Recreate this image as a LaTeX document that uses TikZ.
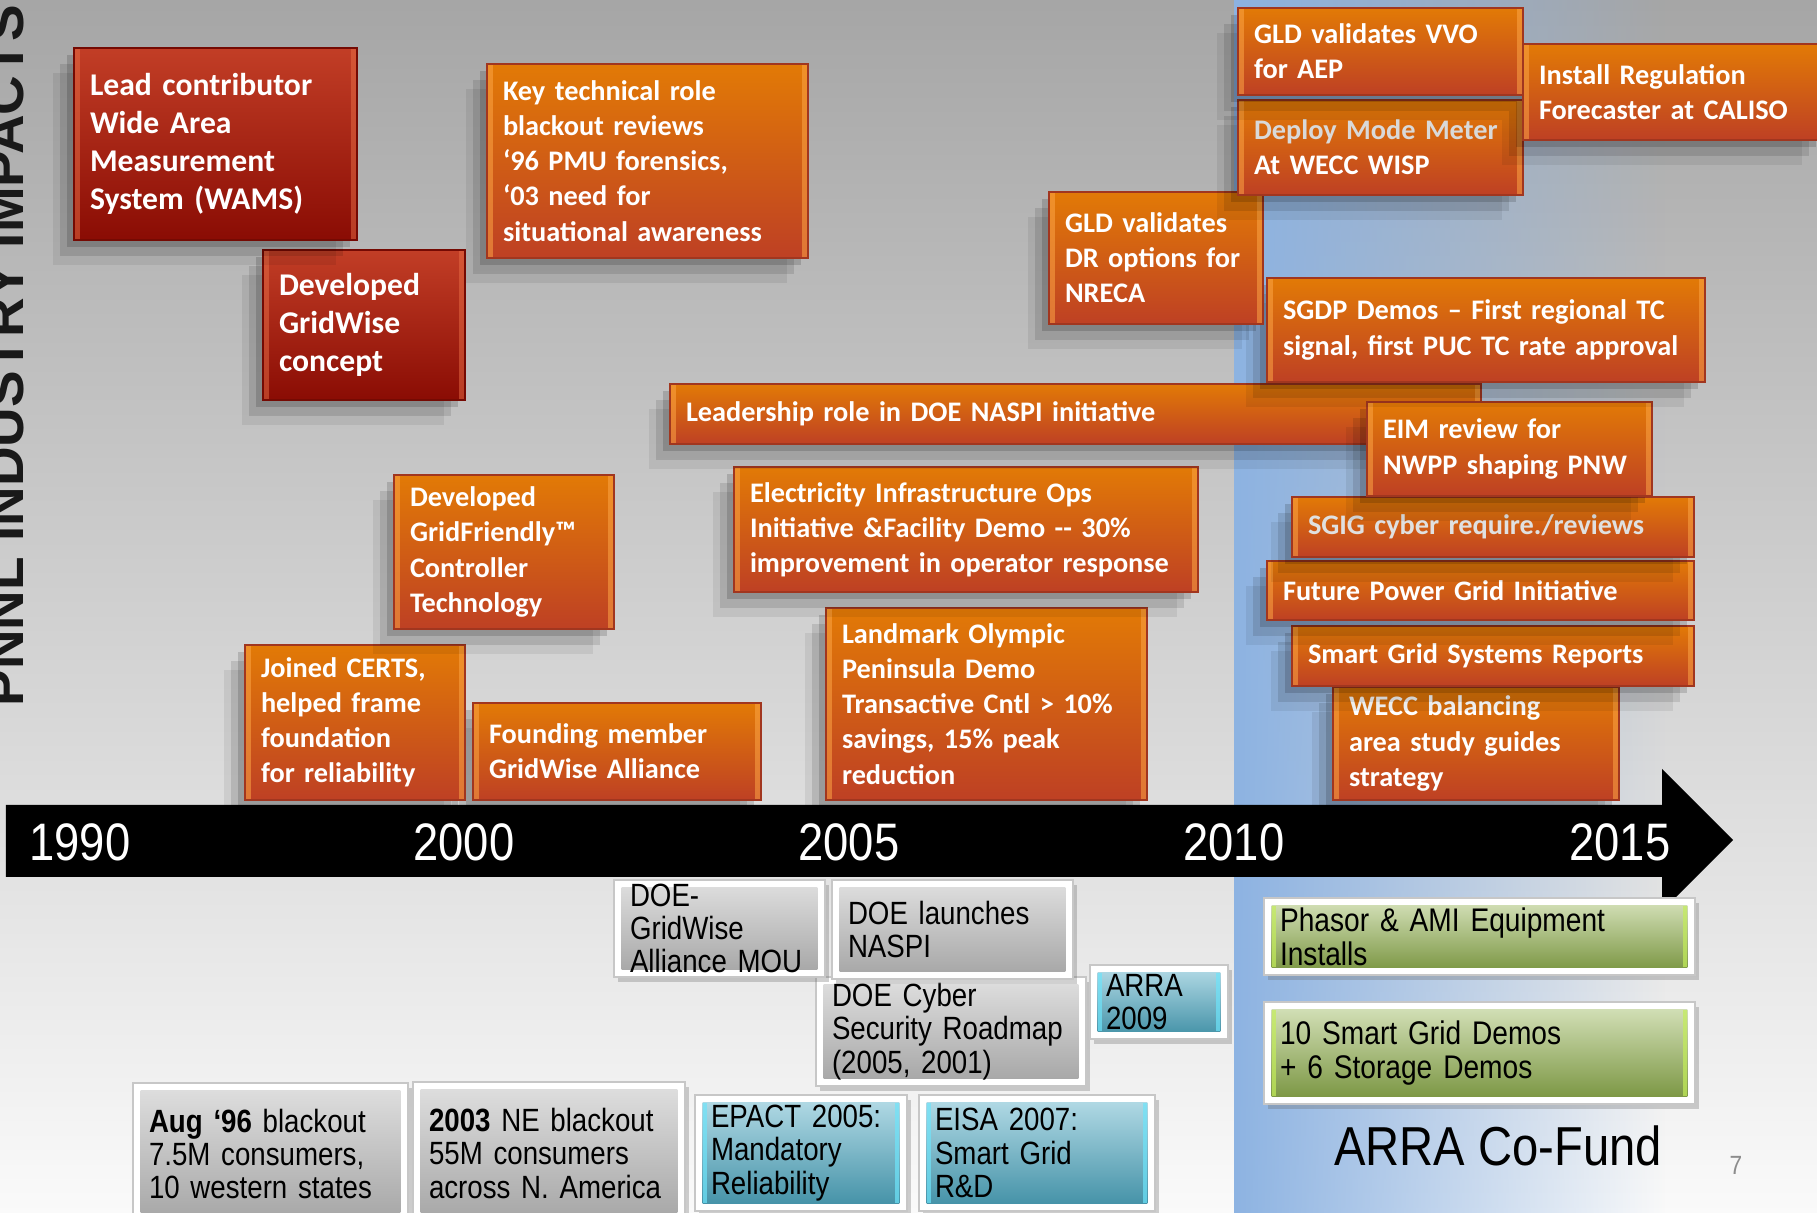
\documentclass[tikz,border=0pt]{standalone}
\usepackage{fontspec}
\setmainfont{Carlito}
\newfontfamily\narrowsf[FakeStretch=0.86]{Liberation Sans}
\newfontfamily\headsf{Liberation Sans}
\usepackage{tikz}
\usetikzlibrary{shadows,fadings}
\hyphenpenalty=10000
\exhyphenpenalty=10000
\definecolor{orgtop}{RGB}{226,122,6}
\definecolor{orgbot}{RGB}{190,64,36}
\definecolor{orgedge}{RGB}{252,165,70}
\definecolor{redtop}{RGB}{194,62,38}
\definecolor{redbot}{RGB}{138,12,4}
\definecolor{rededge}{RGB}{232,110,70}
\definecolor{graytop}{RGB}{224,224,224}
\definecolor{graybot}{RGB}{164,164,164}
\definecolor{tealtop}{RGB}{183,221,232}
\definecolor{tealbot}{RGB}{62,142,164}
\definecolor{tealedge}{RGB}{110,228,250}
\definecolor{grntop}{RGB}{216,228,190}
\definecolor{grnbot}{RGB}{118,146,60}
\definecolor{grnedge}{RGB}{196,238,90}
\definecolor{panelblue}{RGB}{141,179,226}
\tikzfading[name=panel_fade, left color=transparent!0, middle color=transparent!30, right color=transparent!100]
\tikzstyle{box} = [rectangle, anchor=north west, inner xsep=0.16cm, inner ysep=0pt, outer sep=0pt, align=left]
\tikzstyle{shd_big} = [drop shadow={shadow xshift=-2pt, shadow yshift=-2pt, opacity=.15, fill=black}, drop shadow={shadow xshift=-4pt, shadow yshift=-4.5pt, opacity=.11, fill=black}, drop shadow={shadow xshift=-6pt, shadow yshift=-7pt, opacity=.07, fill=black}]
\tikzstyle{shd_small} = [drop shadow={shadow xshift=1pt, shadow yshift=-1.5pt, opacity=.3, fill=black!60}]
\tikzstyle{box_o} = [box, shd_big, top color=orgtop, bottom color=orgbot, draw=orgbot!85!black, line width=0.4pt, text=white, font=\fontsize{8.05}{10}\selectfont\bfseries, path picture={\fill[orgedge, opacity=.55] (path picture bounding box.north west) rectangle ([xshift=1.8pt]path picture bounding box.south west); \fill[orgedge, opacity=.55] ([xshift=-1.8pt]path picture bounding box.north east) rectangle (path picture bounding box.south east);}]
\tikzstyle{box_r} = [box, shd_big, top color=redtop, bottom color=redbot, draw=redbot!85!black, line width=0.4pt, text=white, font=\fontsize{9}{10.8}\selectfont\bfseries, path picture={\fill[rededge, opacity=.5] (path picture bounding box.north west) rectangle ([xshift=1.8pt]path picture bounding box.south west); \fill[rededge, opacity=.5] ([xshift=-1.8pt]path picture bounding box.north east) rectangle (path picture bounding box.south east);}]
\tikzstyle{frame_g} = [box, shd_small, fill=white, draw=black!22, line width=0.4pt, text=black, font=\narrowsf\fontsize{9.15}{9.5}\selectfont, path picture={\shade[top color=graytop, bottom color=graybot] ([shift={(2.2pt,-2.2pt)}]path picture bounding box.north west) rectangle ([shift={(-2.2pt,2.2pt)}]path picture bounding box.south east);}]
\tikzstyle{frame_t} = [box, shd_small, fill=white, draw=black!22, line width=0.4pt, text=black, font=\narrowsf\fontsize{9.15}{9.5}\selectfont, path picture={\shade[top color=tealtop, bottom color=tealbot] ([shift={(2.2pt,-2.2pt)}]path picture bounding box.north west) rectangle ([shift={(-2.2pt,2.2pt)}]path picture bounding box.south east); \fill[tealedge, opacity=.7] ([shift={(2.2pt,-2.2pt)}]path picture bounding box.north west) rectangle ([shift={(3.4pt,2.2pt)}]path picture bounding box.south west); \fill[tealedge, opacity=.7] ([shift={(-3.4pt,-2.2pt)}]path picture bounding box.north east) rectangle ([shift={(-2.2pt,2.2pt)}]path picture bounding box.south east);}]
\tikzstyle{frame_v} = [box, shd_small, fill=white, draw=black!22, line width=0.4pt, text=black, font=\narrowsf\fontsize{9.3}{9.7}\selectfont, path picture={\shade[top color=grntop, bottom color=grnbot] ([shift={(2.2pt,-2.2pt)}]path picture bounding box.north west) rectangle ([shift={(-2.2pt,2.2pt)}]path picture bounding box.south east); \fill[grnedge, opacity=.7] ([shift={(2.2pt,-2.2pt)}]path picture bounding box.north west) rectangle ([shift={(3.4pt,2.2pt)}]path picture bounding box.south west); \fill[grnedge, opacity=.7] ([shift={(-3.4pt,-2.2pt)}]path picture bounding box.north east) rectangle ([shift={(-2.2pt,2.2pt)}]path picture bounding box.south east);}]
\tikzstyle{year} = [text=white, inner sep=0pt, font=\narrowsf\fontsize{15}{15}\selectfont]
\tikzset{wh/.style 2 args={minimum width=#1*0.01cm, minimum height=#2*0.01cm, text width=(#1-32)*0.01cm}}

\begin{document}
\begin{tikzpicture}[x=0.01cm, y=-0.01cm]
\useasboundingbox (0,0) rectangle (1817,1213);
\clip (0,0) rectangle (1817,1213);
\shade[top color=black!35, middle color=black!18, bottom color=black!2] (0,0) rectangle (1817,1213);
\fill[panelblue, path fading=panel_fade] (1234,0) rectangle (1665,1213);

\node[rotate=90, anchor=base west, inner sep=0pt, font=\headsf\bfseries\fontsize{15.6}{16}\selectfont, text=black!90] (title) at (23,707) {PNNL INDUSTRY IMPACTS};

\node [box_o, wh={288}{97}] (founding) at (473,703) {Founding member\\GridWise Alliance};
\node [box_o, wh={286}{113}] (wecc) at (1333,687) {WECC balancing\\area study guides\\strategy};
\node [box_o, wh={220}{155}] (certs) at (245,645) {Joined CERTS,\\helped frame\\foundation\\for reliability};
\node [box_o, wh={402}{60}] (sgsreports) at (1292,626) {Smart Grid Systems Reports};
\node [box_o, wh={321}{192}] (olympic) at (826,608) {Landmark Olympic\\Peninsula Demo\\Transactive Cntl > 10\%\\savings, 15\% peak\\reduction};
\node [box_o, wh={427}{59}] (fpgi) at (1267,561) {Future Power Grid Initiative};
\node [box_o, wh={402}{60}, text=black!12] (sgig) at (1292,497) {SGIG cyber require./reviews};
\node [box_o, wh={220}{154}] (gridfriendly) at (394,475) {Developed\\GridFriendly™\\Controller\\Technology};
\node [box_o, wh={464}{125}] (eiops) at (734,467) {Electricity Infrastructure Ops\\Initiative \&Facility Demo -{}- 30\%\\improvement in operator response};
\node [box_o, wh={811}{60}] (naspi) at (670,384) {Leadership role in DOE NASPI initiative};
\node [box_o, wh={285}{94}] (eim) at (1367,402) {EIM review for\\NWPP shaping PNW};
\node [box_o, wh={438}{104}] (sgdp) at (1267,278) {SGDP Demos – First regional TC\\signal, first PUC TC rate approval};
\node [box_r, wh={202}{150}] (gridwise) at (263,250) {Developed\\GridWise\\concept};
\node [box_o, wh={214}{132}] (gldnreca) at (1049,192) {GLD validates\\DR options for\\NRECA};
\node [box_o, wh={285}{95}] (modemeter) at (1238,100) {\textcolor{black!15}{Deploy Mode Meter}\\At WECC WISP};
\node [box_o, wh={321}{194}] (keyrole) at (487,64) {Key technical role\\blackout reviews\\‘96 PMU forensics,\\‘03 need for\\situational awareness};
\node [box_r, wh={283}{192}] (wams) at (74,48) {Lead contributor\\Wide Area\\Measurement\\System (WAMS)};
\node [box_o, wh={300}{96}] (caliso) at (1523,44) {Install Regulation\\Forecaster at CALISO};
\node [box_o, wh={285}{87}] (gldaep) at (1238,8) {GLD validates VVO\\for AEP};

\fill[black] (6,805) -- (1662,805) -- (1662,769) -- (1733,840) -- (1662,911) -- (1662,877) -- (6,877) -- cycle;
\node [year] (y1990) at (80,842) {1990};
\node [year] (y2000) at (464,842) {2000};
\node [year] (y2005) at (849,842) {2005};
\node [year] (y2010) at (1234,842) {2010};
\node [year] (y2015) at (1620,842) {2015};

\node [frame_g, wh={270}{109}] (cyber) at (816,977) {DOE Cyber\\Security Roadmap\\(2005, 2001)};
\node [frame_g, wh={211}{97}] (mou) at (614,880) {DOE-\\GridWise\\Alliance MOU};
\node [frame_g, wh={241}{99}] (launch) at (832,880) {DOE launches\\NASPI};
\node [frame_t, wh={138}{74}] (arra) at (1090,965) {ARRA\\2009};
\node [frame_g, wh={275}{142}] (aug96) at (133,1083) {\textbf{Aug ‘96} blackout\\7.5M consumers,\\10 western states};
\node [frame_g, wh={272}{143}] (ne2003) at (413,1082) {\textbf{2003} NE blackout\\55M consumers\\across N. America};
\node [frame_t, wh={212}{116}] (epact) at (695,1095) {EPACT 2005:\\Mandatory\\Reliability};
\node [frame_t, wh={236}{116}] (eisa) at (919,1095) {EISA 2007:\\Smart Grid\\R\&D};
\node [frame_v, wh={431}{77}] (phasor) at (1264,898) {Phasor \& AMI Equipment\\Installs};
\node [frame_v, wh={431}{102}] (sgdemos) at (1264,1002) {10 Smart Grid Demos\\+ 6 Storage Demos};

\node [font=\narrowsf\fontsize{15.6}{16}\selectfont, text=black] (cofund) at (1498,1146) {ARRA Co-Fund};
\node [font=\narrowsf\fontsize{7.5}{8}\selectfont, text=black!45] (pagenum) at (1736,1165) {7};
\end{tikzpicture}
\end{document}
